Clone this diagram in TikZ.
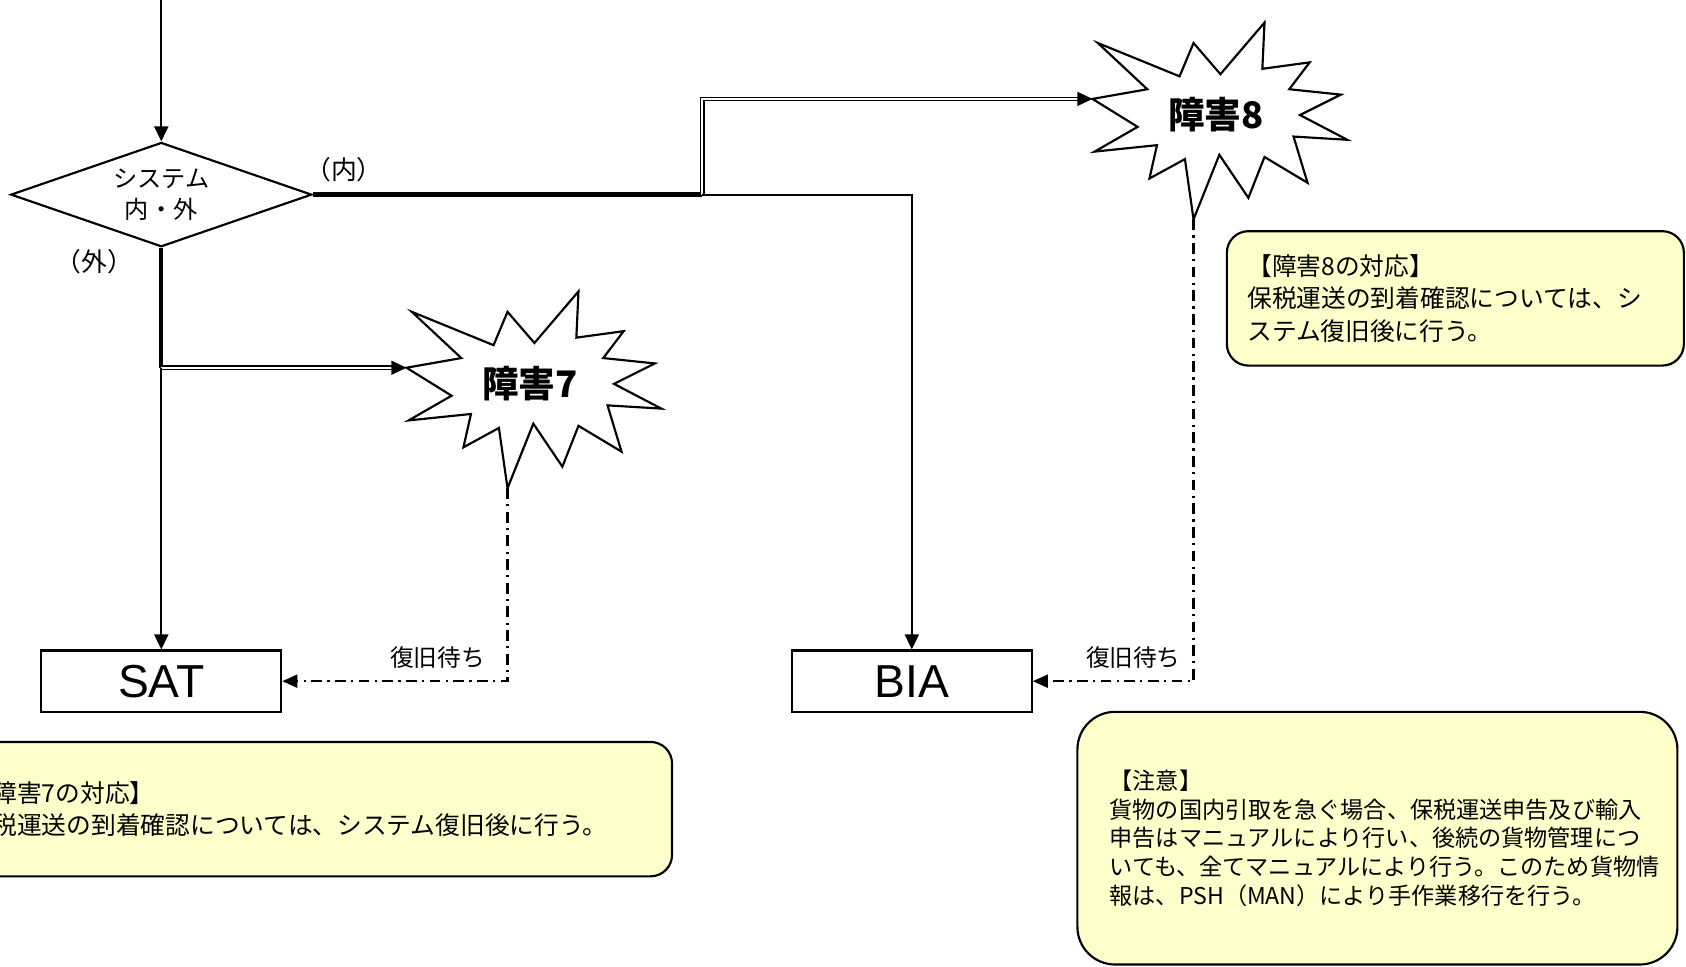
\documentclass[tikz,border=0pt]{standalone}
\usepackage{fontspec}
\setmainfont{Liberation Sans}
\newfontfamily\jp{Noto Sans CJK JP}
\usetikzlibrary{shapes.geometric,arrows.meta}

\definecolor{memoyellow}{RGB}{255,255,204}

% outline of the burst, relative to its centre
\newcommand{\burstshape}{(-110,-67) -- (-34,-36) -- (-21,-67) -- (4,-38) -- (45,-86) -- (43,-43) -- (87,-49) -- (68,-24) -- (116,-19) -- (78,0) -- (122,23) -- (72,20) -- (85,63) -- (45,39) -- (30,77) -- (3,37) -- (-21,97) -- (-29,41) -- (-62,59) -- (-55,28) -- (-113,34) -- (-73,11) -- (-115,-15) -- (-64,-24) -- cycle}

\begin{document}
\begin{tikzpicture}[x=1pt,y=-1pt,
    line/.style={draw=black,line width=2pt},
    thickline/.style={draw=black,line width=4pt},
    arrowline/.style={line,-{Triangle[length=14pt,width=13pt]}},
    dblarrow/.style={draw=black,double=white,line width=1.3pt,double distance=1.8pt,-{Triangle[length=14pt,width=13pt]}},
    waitline/.style={draw=black,line width=2pt,dash pattern=on 10pt off 5pt on 2pt off 5pt,-{Triangle[length=14pt,width=12pt]}},
    box/.style={shape=rectangle,draw=black,line width=2pt,fill=white,minimum width=223pt,minimum height=57pt,inner sep=0pt,font=\fontsize{43}{43}\selectfont},
    burst/.style={draw=black,line width=2pt,fill=white},
    memo/.style={shape=rectangle,draw=black,line width=2pt,fill=memoyellow,rounded corners=20pt,align=left,inner ysep=0pt,font=\jp\fontsize{23}{30}\selectfont},
    label/.style={inner sep=0pt,font=\jp\fontsize{24}{24}\selectfont}
]
\useasboundingbox (0,0) rectangle (1568,899);
\clip (0,0) rectangle (1568,899);

% decision
\coordinate (top) at (150,0);
\node[shape=diamond,draw=black,line width=2pt,aspect=2.9,minimum width=280pt,minimum height=97pt,inner sep=0pt,align=center,font=\jp\fontsize{22.5}{29}\selectfont] (sys) at (150,181) {システム\\内・外};
\node[label] (inside) at (320,158) {（内）};
\node[label] (outside) at (88,243) {（外）};

% systems
\node[box] (sat) at (150,633.5) {SAT};
\node[box] (bia) at (848,633.5) {BIA};

% failures
\begin{scope}[shift={(493,357)}]
  \draw[burst] \burstshape;
  \node[font=\jp\bfseries\fontsize{34}{34}\selectfont] (f7) at (0,0) {障害7};
  \coordinate (f7in) at (-115,-15);
  \coordinate (f7out) at (-21,97);
\end{scope}
\begin{scope}[shift={(1131,107)}]
  \draw[burst] \burstshape;
  \node[font=\jp\bfseries\fontsize{34}{34}\selectfont] (f8) at (0,0) {障害8};
  \coordinate (f8in) at (-115,-15);
  \coordinate (f8out) at (-21,97);
\end{scope}

% notes
\node[memo,minimum width=665pt,minimum height=125pt,text width=645pt,inner xsep=10pt] (note7) at (292.5,752.5) {【障害7の対応】\\保税運送の到着確認については、システム復旧後に行う。};
\node[memo,minimum width=425pt,minimum height=125pt,text width=387pt,inner xsep=19pt] (note8) at (1353.5,277.5) {【障害8の対応】\\保税運送の到着確認については、シ\\ステム復旧後に行う。};
\node[memo,rounded corners=35pt,minimum width=558pt,minimum height=235pt,text width=498pt,inner xsep=30pt,font=\jp\fontsize{21.5}{26.75}\selectfont] (caution) at (1281,779.5) {【注意】\\貨物の国内引取を急ぐ場合、保税運送申告及び輸入\\申告はマニュアルにより行い、後続の貨物管理につ\\いても、全てマニュアルにより行う。このため貨物情\\報は、PSH（MAN）により手作業移行を行う。};

% connectors
\coordinate (j8) at (653,181);
\coordinate (j7) at (sys.south |- f7in);
\draw[arrowline] (top) -- (sys.north);
\draw[thickline] (sys.east) -- (j8);
\draw[dblarrow] (j8) |- (f8in);
\draw[arrowline] (j8) -| (bia.north);
\draw[thickline] (sys.south) -- (j7);
\draw[dblarrow] (j7) -- (f7in);
\draw[arrowline] (j7) -- (sat.north);
\draw[waitline] (f7out) |- node[pos=0.5,anchor=south east,label,font=\jp\fontsize{22}{22}\selectfont,xshift=-20pt,yshift=11pt] (wait7) {復旧待ち} (sat.east);
\draw[waitline] (f8out) |- node[pos=0.5,anchor=south east,label,font=\jp\fontsize{22}{22}\selectfont,xshift=-11pt,yshift=11pt] (wait8) {復旧待ち} (bia.east);
\end{tikzpicture}
\end{document}
